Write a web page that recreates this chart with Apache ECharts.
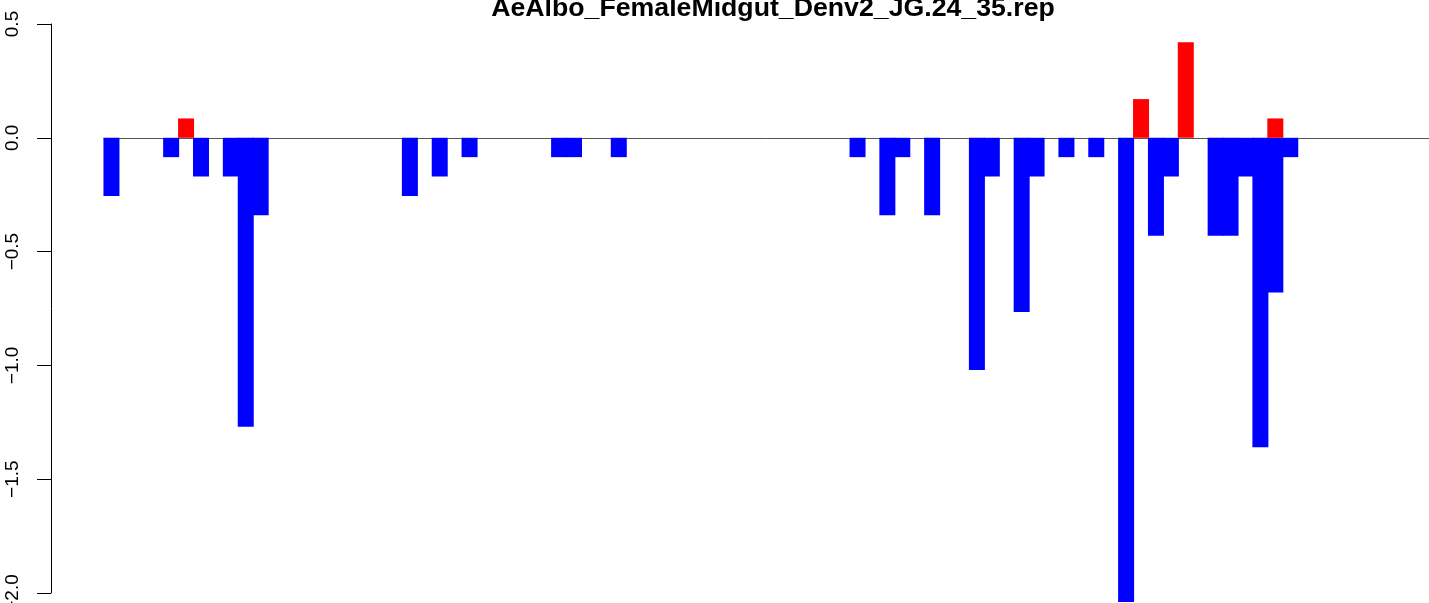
<!DOCTYPE html>
<html>
<head>
<meta charset="utf-8">
<script src="https://cdn.jsdelivr.net/npm/echarts@6/dist/echarts.min.js"></script>
<style>
  html, body { margin: 0; padding: 0; background: #ffffff; }
  #chart { width: 1429px; height: 603px; }
</style>
</head>
<body>
<div id="chart"></div>
<script>
// ---- data ----
const titleText = "AeAlbo_FemaleMidgut_Denv2_JG.24_35.rep";
const slotCount = 89;
const categories = Array.from({ length: slotCount }, (_, i) => String(i + 1));

// negative values (blue) per slot, null = no bar
const downValues = [
  -0.256, null, null, null, -0.085, null, -0.17, null, -0.17, -1.27,
  -0.34, null, null, null, null, null, null, null, null, null,
  -0.256, null, -0.17, null, -0.085, null, null, null, null, null,
  -0.085, -0.085, null, null, -0.085, null, null, null, null, null,
  null, null, null, null, null, null, null, null, null, null,
  -0.085, null, -0.34, -0.085, null, -0.34, null, null, -1.02, -0.17,
  null, -0.765, -0.17, null, -0.085, null, -0.085, null, -2.04, null,
  -0.43, -0.17, null, null, -0.43, -0.43, -0.17, -1.36, -0.68, -0.085,
  null, null, null, null, null, null, null, null, null
];

// positive values (red) per slot
const upValues = [
  null, null, null, null, null, 0.085, null, null, null, null,
  null, null, null, null, null, null, null, null, null, null,
  null, null, null, null, null, null, null, null, null, null,
  null, null, null, null, null, null, null, null, null, null,
  null, null, null, null, null, null, null, null, null, null,
  null, null, null, null, null, null, null, null, null, null,
  null, null, null, null, null, null, null, null, null, 0.17,
  null, null, 0.42, null, null, null, null, null, 0.085, null,
  null, null, null, null, null, null, null, null, null
];

const yMin = -2.0, yMax = 0.5, yStep = 0.5;

// ---- chart ----
const chart = echarts.init(document.getElementById('chart'), null, { renderer: 'canvas' });
const fontFam = "'Liberation Sans', Arial, Helvetica, sans-serif";

chart.setOption({
  animation: false,
  backgroundColor: '#ffffff',
  title: {
    text: titleText,
    left: 768,
    textAlign: 'center',
    top: -10,
    textStyle: { fontFamily: fontFam, fontSize: 26.7, fontWeight: 'bold', color: '#000000' }
  },
  grid: {
    left: 104,
    top: 24,
    height: 569,
    width: 1328,
    containLabel: false,
    outerBoundsMode: 'none'
  },
  xAxis: {
    type: 'category',
    data: categories,
    boundaryGap: true,
    axisLine: { show: true, onZero: true, lineStyle: { color: '#555555', width: 1 } },
    axisTick: { show: false },
    axisLabel: { show: false },
    splitLine: { show: false }
  },
  yAxis: {
    type: 'value',
    position: 'left',
    offset: 53,
    min: yMin,
    max: yMax,
    interval: yStep,
    axisLine: { show: true, onZero: false, lineStyle: { color: '#000000', width: 1 } },
    axisTick: { show: true, length: 14, lineStyle: { color: '#000000', width: 1 } },
    axisLabel: {
      show: true,
      rotate: 90,
      margin: 29,
      fontFamily: fontFam,
      fontSize: 19,
      color: '#000000',
      formatter: v => v.toFixed(1).replace('-', '\u2212')
    },
    splitLine: { show: false }
  },
  series: [
    {
      name: 'down',
      type: 'bar',
      data: downValues,
      barWidth: 16,
      barGap: '-100%',
      clip: false,
      itemStyle: { color: '#0000ff' }
    },
    {
      name: 'up',
      type: 'bar',
      data: upValues,
      barWidth: 16,
      barGap: '-100%',
      clip: false,
      itemStyle: { color: '#ff0000' }
    }
  ]
});
</script>
</body>
</html>
